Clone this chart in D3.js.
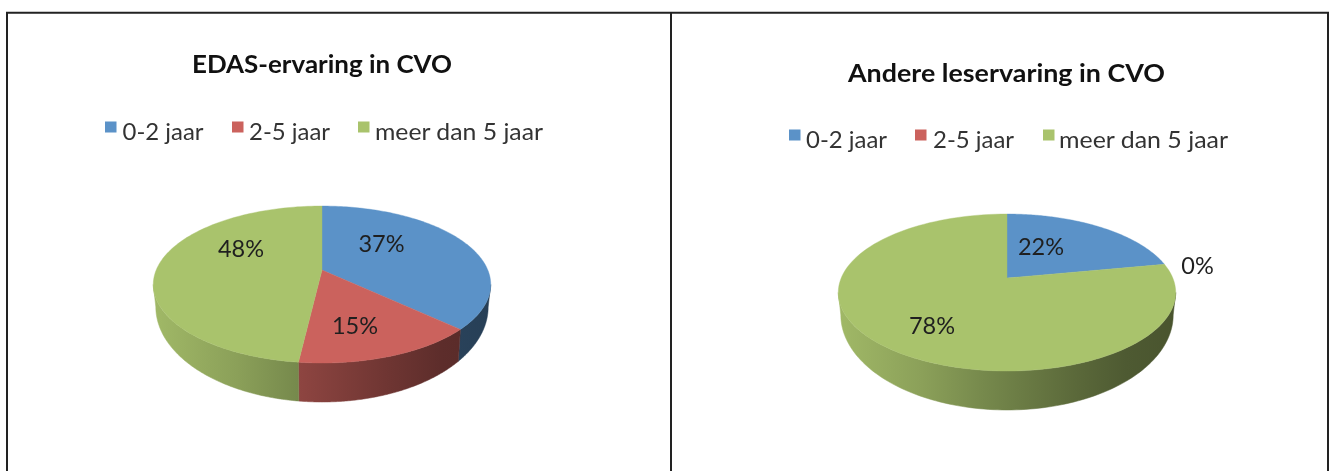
<!DOCTYPE html>
<html><head><meta charset="utf-8">
<style>html,body{margin:0;padding:0;background:#fff}svg{display:block;filter:blur(0.6px)}</style>
<script src="https://cdnjs.cloudflare.com/ajax/libs/d3/7.8.5/d3.min.js"></script>
</head><body><svg id="c" width="1334" height="471"></svg>
<script>
const categories = ["0-2 jaar","2-5 jaar","meer dan 5 jaar"];
const edasValues = [37,14.85,48.15];
const andereValues = [22,0,78];
const titles = ["EDAS-ervaring in CVO","Andere leservaring in CVO"];
const topColors = ["#5b92c8","#cb625d","#a9c36c"];

const svg = d3.select("#c");
const defs = svg.append("defs");
const FONT="Lato, 'Open Sans', sans-serif";
const K=0.185, A=75.8, B=165.8;
const WALL_DY=37, WALL_RY=95, WALL_SX=0.985;
const RIM_A=Math.acos(-K), RIM_B=2*Math.PI-RIM_A;
const RX=B/Math.sqrt(1-K*K);
const wallStops=[[0,.95],[.25,.82],[.43,.7],[.7,.54],[.85,.46],[1,.43]];
const projector=(cx,cy)=>(theta)=>{
  const w=1+K*Math.cos(theta);
  return [cx+B*Math.sin(theta)/w, cy-A*Math.cos(theta)/w];
};
const line=d3.line();
function shade(c,f){const r=d3.rgb(c);return d3.rgb(r.r*f,r.g*f,r.b*f).formatHex();}

function drawPie(id,g,cfg,values){
  const P=projector(cfg.cx,cfg.cy);
  const down=p=>{
    const u=Math.max(-1,Math.min(1,(p[0]-cfg.cx)/RX));
    return [cfg.cx+(p[0]-cfg.cx)*WALL_SX, cfg.cy+WALL_DY+WALL_RY*Math.sqrt(1-u*u)];
  };
  const arcs=d3.pie().value(d=>d).sort(null)(values);
  const sx=d3.scaleLinear().domain([0,1]).range([cfg.cx-170,cfg.cx+170]);
  topColors.forEach((c,i)=>{
    const gr=defs.append("linearGradient").attr("id",`${id}w${i}`).attr("gradientUnits","userSpaceOnUse")
      .attr("x1",sx(0)).attr("x2",sx(1)).attr("y1",0).attr("y2",0);
    wallStops.forEach(s=>gr.append("stop").attr("offset",s[0]).attr("stop-color",shade(c,s[1])));
  });
  const samp=(a,b)=>d3.range(0,121).map(j=>a+(b-a)*j/120);
  arcs.forEach((d,i)=>{
    const a=Math.max(d.startAngle,RIM_A), b=Math.min(d.endAngle,RIM_B);
    if(b<=a) return;
    const rim=samp(a,b).map(P);
    const pts=rim.concat(rim.slice().reverse().map(down));
    g.append("path").attr("d",line(pts)+"Z").attr("fill",`url(#${id}w${i})`)
      .attr("stroke",`url(#${id}w${i})`).attr("stroke-width",.5);
  });
  arcs.forEach((d,i)=>{
    if(d.endAngle-d.startAngle<=0) return;
    const pts=[[cfg.cx,cfg.cy]].concat(samp(d.startAngle,d.endAngle).map(P));
    g.append("path").attr("d",line(pts)+"Z").attr("fill",topColors[i]).attr("stroke",topColors[i]).attr("stroke-width",.4);
  });
  values.forEach((v,i)=>{
    g.append("text").attr("x",cfg.labels[i][0]).attr("y",cfg.labels[i][1]).attr("text-anchor","middle")
      .attr("font-family",FONT).attr("font-size",23.5).attr("fill","#1f1f1f").text(Math.round(v)+"%");
  });
  g.append("text").attr("x",cfg.titleX).attr("y",cfg.titleY).attr("text-anchor","middle")
    .attr("font-family",FONT).attr("font-weight",700).attr("font-size",25).attr("fill","#111")
    .attr("textLength",cfg.titleLen).attr("lengthAdjust","spacingAndGlyphs").text(cfg.title);
  categories.forEach((c,i)=>{
    g.append("rect").attr("x",cfg.legendX[i]).attr("y",cfg.legendY).attr("width",11.5).attr("height",11).attr("fill",topColors[i]);
    g.append("text").attr("x",cfg.legendTextX[i]).attr("y",cfg.legendY+18.5).attr("font-family",FONT)
      .attr("font-size",23.5).attr("fill","#333")
      .attr("textLength",cfg.legendLen[i]).attr("lengthAdjust","spacingAndGlyphs").text(c);
  });
}
const frame=[[[7,471],[7,12.7],[1328,12.7],[1328,471]],[[671,12.7],[671,471]]];
frame.forEach(f=>svg.append("path").attr("d",line(f)).attr("fill","none").attr("stroke","#222").attr("stroke-width",2));

drawPie("a",svg.append("g"),{cx:322,cy:270,title:titles[0],titleX:322,titleY:73,titleLen:260,
  legendX:[105,232,358],legendTextX:[122.5,249,375],legendLen:[81,81,168],legendY:121.5,
  labels:[[381.5,252],[355,334],[241,257]]},edasValues);
drawPie("b",svg.append("g"),{cx:1007,cy:278,title:titles[1],titleX:1006.5,titleY:82,titleLen:317,
  legendX:[789,915,1043],legendTextX:[806,933,1059],legendLen:[81,81,169],legendY:129.5,
  labels:[[1041,255],[1197.5,274],[932,334]]},andereValues);
</script></body></html>
